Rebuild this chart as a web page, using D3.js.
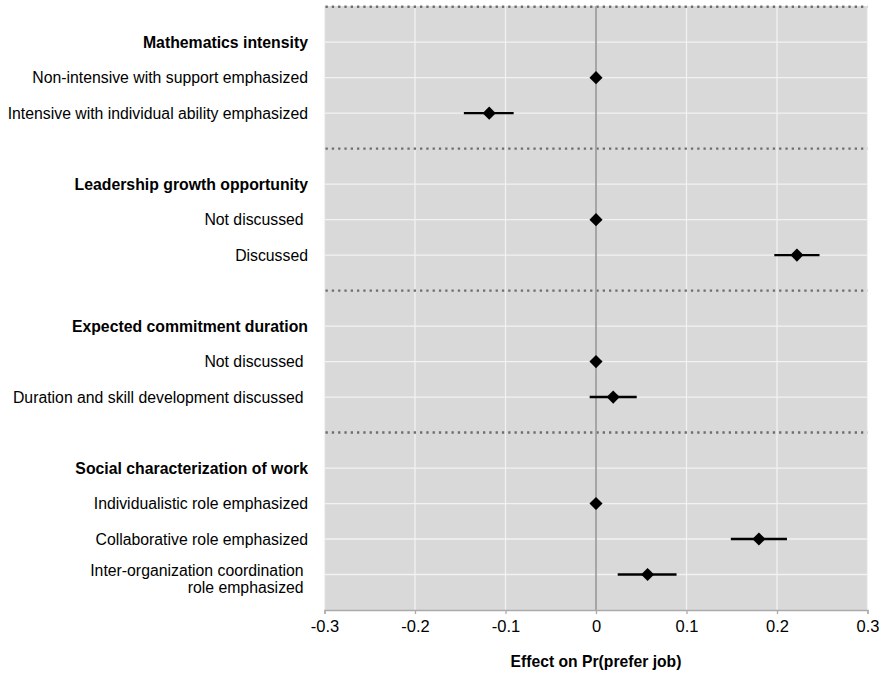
<!DOCTYPE html>
<html>
<head>
<meta charset="utf-8">
<script src="https://cdn.jsdelivr.net/npm/d3@7"></script>
<style>
  body { margin: 0; background: #fff; }
  text { font-family: "Liberation Sans", Arial, Helvetica, sans-serif; fill: #000; }
</style>
</head>
<body>
<script>
// attribute groups and levels, top to bottom
var groups = [
  "Mathematics intensity",
  "Leadership growth opportunity",
  "Expected commitment duration",
  "Social characterization of work"
];
var levels = [
  ["Non-intensive with support emphasized", "Intensive with individual ability emphasized"],
  ["Not discussed ", "Discussed"],
  ["Not discussed ", "Duration and skill development discussed "],
  ["Individualistic role emphasized", "Collaborative role emphasized", "Inter-organization coordination \nrole emphasized "]
];
// estimates and 95% intervals (baseline levels are 0 with no interval)
var estimates = [[0, -0.118], [0, 0.222], [0, 0.019], [0, 0.180, 0.057]];
var lower = [[null, -0.146], [null, 0.197], [null, -0.007], [null, 0.149, 0.024]];
var upper = [[null, -0.091], [null, 0.247], [null, 0.045], [null, 0.211, 0.089]];
var xTicks = [-0.3, -0.2, -0.1, 0, 0.1, 0.2, 0.3];
var xTitle = "Effect on Pr(prefer job)";

var W = 883, H = 673;
var panel = {left: 324.5, right: 867.5, top: 6, bottom: 610};

// flatten into rows: separator, header, levels...
var rows = [];
groups.forEach(function(g, gi) {
  rows.push({type: "sep"});
  rows.push({type: "head", label: g});
  levels[gi].forEach(function(l, li) {
    rows.push({type: "level", label: l, est: estimates[gi][li], lo: lower[gi][li], hi: upper[gi][li]});
  });
});
rows.forEach(function(d, i) { d.idx = i; });

var x = d3.scaleLinear().domain([-0.3, 0.3]).range([panel.left, panel.right]);
var y = d3.scaleLinear().domain([0, rows.length]).range([panel.top + 0.7, panel.bottom]);

var svg = d3.select("body").append("svg")
  .attr("width", W)
  .attr("height", H);

svg.append("rect")
  .attr("x", panel.left)
  .attr("y", panel.top)
  .attr("width", panel.right - panel.left)
  .attr("height", panel.bottom - panel.top)
  .attr("fill", "#d9d9d9");

// vertical grid
svg.selectAll(".vgrid")
  .data(xTicks.filter(function(t) { return t != 0; })).enter()
  .append("line")
  .attr("class", "vgrid")
  .attr("x1", function(d) { return x(d); })
  .attr("x2", function(d) { return x(d); })
  .attr("y1", panel.top)
  .attr("y2", panel.bottom)
  .attr("stroke", "#f2f2f2")
  .attr("stroke-width", 1.3);

// horizontal grid at every non-separator row
svg.selectAll(".hgrid")
  .data(rows.filter(function(d) { return d.type != "sep"; })).enter()
  .append("line")
  .attr("class", "hgrid")
  .attr("x1", panel.left)
  .attr("x2", panel.right)
  .attr("y1", function(d) { return y(d.idx); })
  .attr("y2", function(d) { return y(d.idx); })
  .attr("stroke", "#f2f2f2")
  .attr("stroke-width", 1.3);

// dotted separators
svg.selectAll(".sep")
  .data(rows.filter(function(d) { return d.type == "sep"; })).enter()
  .append("line")
  .attr("class", "sep")
  .attr("x1", panel.left + 1)
  .attr("x2", panel.right)
  .attr("y1", function(d) { return y(d.idx); })
  .attr("y2", function(d) { return y(d.idx); })
  .attr("stroke", "#6e6e6e")
  .attr("stroke-width", 2.4)
  .attr("stroke-dasharray", "2.3,4");

// zero line
svg.append("line")
  .attr("x1", x(0)).attr("x2", x(0))
  .attr("y1", panel.top).attr("y2", panel.bottom)
  .attr("stroke", "#999")
  .attr("stroke-width", 1.6);

var pts = rows.filter(function(d) { return d.type == "level"; });

// intervals
svg.selectAll(".ci")
  .data(pts.filter(function(d) { return d.lo != null; })).enter()
  .append("line")
  .attr("class", "ci")
  .attr("x1", function(d) { return x(d.lo); })
  .attr("x2", function(d) { return x(d.hi); })
  .attr("y1", function(d) { return y(d.idx); })
  .attr("y2", function(d) { return y(d.idx); })
  .attr("stroke", "#000")
  .attr("stroke-width", 2.4);

// diamonds
svg.selectAll(".pt")
  .data(pts).enter()
  .append("path")
  .attr("class", "pt")
  .attr("d", d3.symbol().type(d3.symbolSquare).size(86))
  .attr("transform", function(d) { return "translate(" + x(d.est) + "," + y(d.idx) + ")rotate(45)"; })
  .attr("fill", "#000");

// row labels
var labels = svg.selectAll(".lab")
  .data(rows.filter(function(d) { return d.type != "sep"; })).enter()
  .append("text")
  .attr("class", "lab")
  .attr("x", 308)
  .attr("text-anchor", "end")
  .style("white-space", "pre")
  .style("font-size", "15.8px")
  .style("font-weight", function(d) { return d.type == "head" ? "bold" : "normal"; });

labels.each(function(d) {
  var parts = d.label.split("\n");
  var t = d3.select(this);
  var y0 = parts.length > 1 ? y(d.idx) + 1.5 : y(d.idx) + 5.5;
  parts.forEach(function(p, i) {
    t.append("tspan").attr("x", 308).attr("y", y0 + i * 17).text(p);
  });
});

// x axis
var axis = svg.append("g")
  .attr("transform", "translate(0," + panel.bottom + ")")
  .call(d3.axisBottom(x).tickValues(xTicks).tickSize(4).tickPadding(6)
    .tickFormat(function(d) { return d == 0 ? "0" : d3.format(".1f")(d).replace("\u2212", "-"); }));
axis.select(".domain").attr("stroke", "#aaa").attr("stroke-width", 1.3);
axis.selectAll(".tick line").attr("stroke", "#aaa").attr("stroke-width", 1.3);
axis.selectAll(".tick text")
  .style("font-size", "16.5px")
  .style("font-family", "'Liberation Sans', Arial, sans-serif")
  .attr("fill", "#000");

svg.append("text")
  .attr("x", (panel.left + panel.right) / 2)
  .attr("y", 667)
  .attr("text-anchor", "middle")
  .style("font-size", "15.7px")
  .style("font-weight", "bold")
  .text(xTitle);
</script>
</body>
</html>
